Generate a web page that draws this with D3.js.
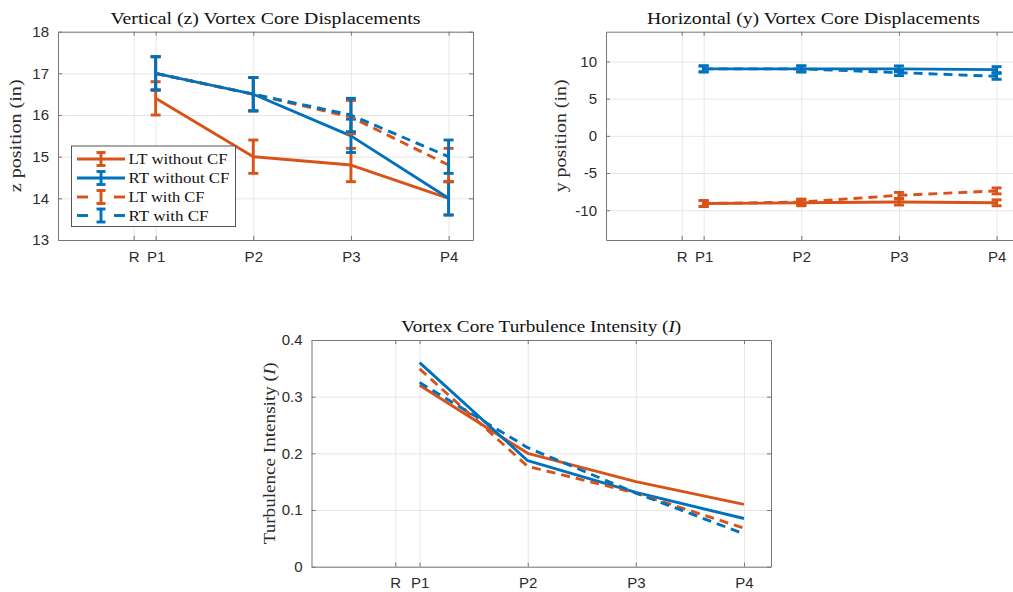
<!DOCTYPE html>
<html>
<head>
<meta charset="utf-8">
<script src="https://cdn.jsdelivr.net/npm/d3@7"></script>
<style>
  body { margin: 0; background: #fff; }
  svg { display: block; }
</style>
</head>
<body>
<svg id="fig" width="1013" height="592"></svg>
<script>
// Measurement stations along the wake; R is the reference plane just upstream of P1
const tickLabels = ["R", "P1", "P2", "P3", "P4"];
const tickPos = [0.775, 1, 2, 3, 4];
const stationPos = [1, 2, 3, 4];

const seriesNames = ["LT without CF", "RT without CF", "LT with CF", "RT with CF"];
const seriesColors = ["#D95319", "#0072BD", "#D95319", "#0072BD"];
const seriesDashed = [false, false, true, true];

// Vertical (z) core position, inches
const zLTnoCF = [16.4, 15.0, 14.8, 14.0];
const zRTnoCF = [17.0, 16.5, 15.5, 14.0];
const zLTCF   = [17.0, 16.5, 15.95, 14.8];
const zRTCF   = [17.0, 16.5, 16.0, 15.0];
const zErr    = [0.4, 0.4, 0.4, 0.4];
const zTicks  = [13, 14, 15, 16, 17, 18];

// Horizontal (y) core position, inches
const yLTnoCF = [-9.1, -9.0, -8.9, -9.0];
const yRTnoCF = [9.0, 9.0, 9.0, 8.9];
const yLTCF   = [-9.1, -8.9, -8.0, -7.4];
const yRTCF   = [9.0, 9.0, 8.5, 8.0];
const yErr    = [0.4, 0.4, 0.4, 0.4];
const yTicks  = [-10, -5, 0, 5, 10];

// Core turbulence intensity
const iLTnoCF = [0.32, 0.20, 0.15, 0.11];
const iRTnoCF = [0.36, 0.187, 0.131, 0.085];
const iLTCF   = [0.349, 0.177, 0.13, 0.068];
const iRTCF   = [0.325, 0.21, 0.13, 0.058];
const iTicks  = [0, 0.1, 0.2, 0.3, 0.4];

const svg = d3.select("#fig");
const AX = "#777";
const GRID = "#e6e6e6";
const TXT = "#2b2b2b";
const LW = 2.9;
const DASH = "9,6";
const SERIF = "'Liberation Serif', 'DejaVu Serif', serif";
const SANS = "'Liberation Sans', Arial, sans-serif";

function panel(o) {
  const g = svg.append("g");
  const x = d3.scaleLinear().domain([0, 4.25]).range([o.left, o.right]);
  const y = d3.scaleLinear().domain(o.yDomain).range([o.bottom, o.top]);
  const w = o.right - o.left, h = o.bottom - o.top;

  // grid
  g.append("g").attr("transform", `translate(0,${o.bottom})`)
    .call(d3.axisBottom(x).tickValues(tickPos).tickSize(-h).tickFormat(""))
    .call(s => { s.select(".domain").remove(); s.selectAll("line").attr("stroke", GRID); });
  g.append("g").attr("transform", `translate(${o.left},0)`)
    .call(d3.axisLeft(y).tickValues(o.yTicks).tickSize(-w).tickFormat(""))
    .call(s => { s.select(".domain").remove(); s.selectAll("line").attr("stroke", GRID); });

  // data series, each drawn with its error bars
  const line = d3.line().x((d, i) => x(stationPos[i])).y(d => y(d));
  o.series.forEach((vals, k) => {
    const col = seriesColors[k];
    g.append("path").datum(vals)
      .attr("d", line)
      .attr("fill", "none")
      .attr("stroke", col)
      .attr("stroke-width", LW)
      .attr("stroke-linejoin", "round")
      .attr("stroke-dasharray", seriesDashed[k] ? DASH : null);
    if (o.err) {
      vals.forEach((v, i) => {
        const cx = x(stationPos[i]);
        const y0 = y(v - o.err[i]), y1 = y(v + o.err[i]);
        g.append("line").attr("x1", cx).attr("x2", cx).attr("y1", y0).attr("y2", y1)
          .attr("stroke", col).attr("stroke-width", LW);
        [y0, y1].forEach(yy => g.append("line")
          .attr("x1", cx - 5).attr("x2", cx + 5).attr("y1", yy).attr("y2", yy)
          .attr("stroke", col).attr("stroke-width", LW));
      });
    }
  });

  // box axes with inward ticks
  const axB = g.append("g").attr("transform", `translate(0,${o.bottom})`)
    .call(d3.axisBottom(x).tickValues(tickPos).tickSizeInner(-4).tickSizeOuter(0)
      .tickPadding(11).tickFormat((d, i) => tickLabels[i]));
  const axT = g.append("g").attr("transform", `translate(0,${o.top})`)
    .call(d3.axisTop(x).tickValues(tickPos).tickSizeInner(-4).tickSizeOuter(0).tickFormat(""));
  const axL = g.append("g").attr("transform", `translate(${o.left},0)`)
    .call(d3.axisLeft(y).tickValues(o.yTicks).tickSizeInner(-4).tickSizeOuter(0)
      .tickPadding(9).tickFormat(o.fmt));
  const axR = g.append("g").attr("transform", `translate(${o.right},0)`)
    .call(d3.axisRight(y).tickValues(o.yTicks).tickSizeInner(-4).tickSizeOuter(0).tickFormat(""));
  [axB, axT, axL, axR].forEach(a => {
    a.select(".domain").attr("stroke", AX).attr("stroke-width", 1);
    a.selectAll("line").attr("stroke", AX);
    a.selectAll("text").attr("fill", TXT).style("font-family", SANS).style("font-size", "15px");
  });

  // title
  const t = g.append("text")
    .attr("x", (o.left + o.right) / 2).attr("y", o.top - 8)
    .attr("text-anchor", "middle")
    .style("font-family", SERIF).style("font-size", "16px").attr("fill", "#111")
    .attr("textLength", o.titleLen).attr("lengthAdjust", "spacingAndGlyphs");
  o.title(t);

  // y label
  const yl = g.append("text")
    .attr("transform", `translate(${o.ylabelX},${(o.top + o.bottom) / 2}) rotate(-90)`)
    .attr("text-anchor", "middle").attr("dy", "0.35em")
    .style("font-family", SERIF).style("font-size", "16px").attr("fill", TXT)
    .attr("textLength", o.ylabelLen).attr("lengthAdjust", "spacingAndGlyphs");
  o.ylabel(yl);
  return { g, x, y };
}

const plainInt = d => String(d);

panel({
  left: 58, right: 473, top: 31.7, bottom: 240,
  yDomain: [13, 18], yTicks: zTicks, fmt: plainInt,
  series: [zLTnoCF, zRTnoCF, zLTCF, zRTCF], err: zErr,
  titleLen: 310, ylabelX: 15, ylabelLen: 113,
  title: t => t.text("Vertical (z) Vortex Core Displacements"),
  ylabel: t => t.text("z position (in)")
});

panel({
  left: 606, right: 1021, top: 31.7, bottom: 240,
  yDomain: [-14, 14], yTicks: yTicks, fmt: plainInt,
  series: [yLTnoCF, yRTnoCF, yLTCF, yRTCF], err: yErr,
  titleLen: 333, ylabelX: 560, ylabelLen: 113,
  title: t => t.text("Horizontal (y) Vortex Core Displacements"),
  ylabel: t => t.text("y position (in)")
});

panel({
  left: 311.5, right: 771, top: 340, bottom: 566.7,
  yDomain: [0, 0.4], yTicks: iTicks, fmt: d => d === 0 ? "0" : d3.format(".1f")(d),
  series: [iLTnoCF, iRTnoCF, iLTCF, iRTCF], err: null,
  titleLen: 280, ylabelX: 269, ylabelLen: 182,
  title: t => { t.append("tspan").text("Vortex Core Turbulence Intensity ("); t.append("tspan").style("font-style", "italic").text("I"); t.append("tspan").text(")"); },
  ylabel: t => { t.append("tspan").text("Turbulence Intensity ("); t.append("tspan").style("font-style", "italic").text("I"); t.append("tspan").text(")"); }
});

// legend for the z-position panel
const leg = svg.append("g");
const lx0 = 71.5, ly0 = 146, lw = 164, lh = 80.5;
leg.append("rect").attr("x", lx0).attr("y", ly0).attr("width", lw).attr("height", lh)
  .attr("fill", "#fff").attr("stroke", "#555").attr("stroke-width", 1);
const rowY = [159, 178, 197, 215.5];
const textLens = [99, 101, 76, 80];
seriesNames.forEach((name, k) => {
  const yy = rowY[k], col = seriesColors[k];
  const x1 = 77, x2 = 125, xc = 101;
  if (seriesDashed[k]) {
    [[x1, x1 + 11], [x2 - 11, x2]].forEach(([a, b]) =>
      leg.append("line").attr("x1", a).attr("x2", b).attr("y1", yy).attr("y2", yy)
        .attr("stroke", col).attr("stroke-width", LW));
  } else {
    leg.append("line").attr("x1", x1).attr("x2", x2).attr("y1", yy).attr("y2", yy)
      .attr("stroke", col).attr("stroke-width", LW);
  }
  leg.append("line").attr("x1", xc).attr("x2", xc).attr("y1", yy - 6.5).attr("y2", yy + 6.5)
    .attr("stroke", col).attr("stroke-width", LW);
  [yy - 6.5, yy + 6.5].forEach(c => leg.append("line")
    .attr("x1", xc - 4.5).attr("x2", xc + 4.5).attr("y1", c).attr("y2", c)
    .attr("stroke", col).attr("stroke-width", LW));
  leg.append("text").attr("x", 128.5).attr("y", yy).attr("dy", "0.35em")
    .style("font-family", SERIF).style("font-size", "15px").attr("fill", "#111")
    .attr("textLength", textLens[k]).attr("lengthAdjust", "spacingAndGlyphs")
    .text(name);
});
</script>
</body>
</html>
